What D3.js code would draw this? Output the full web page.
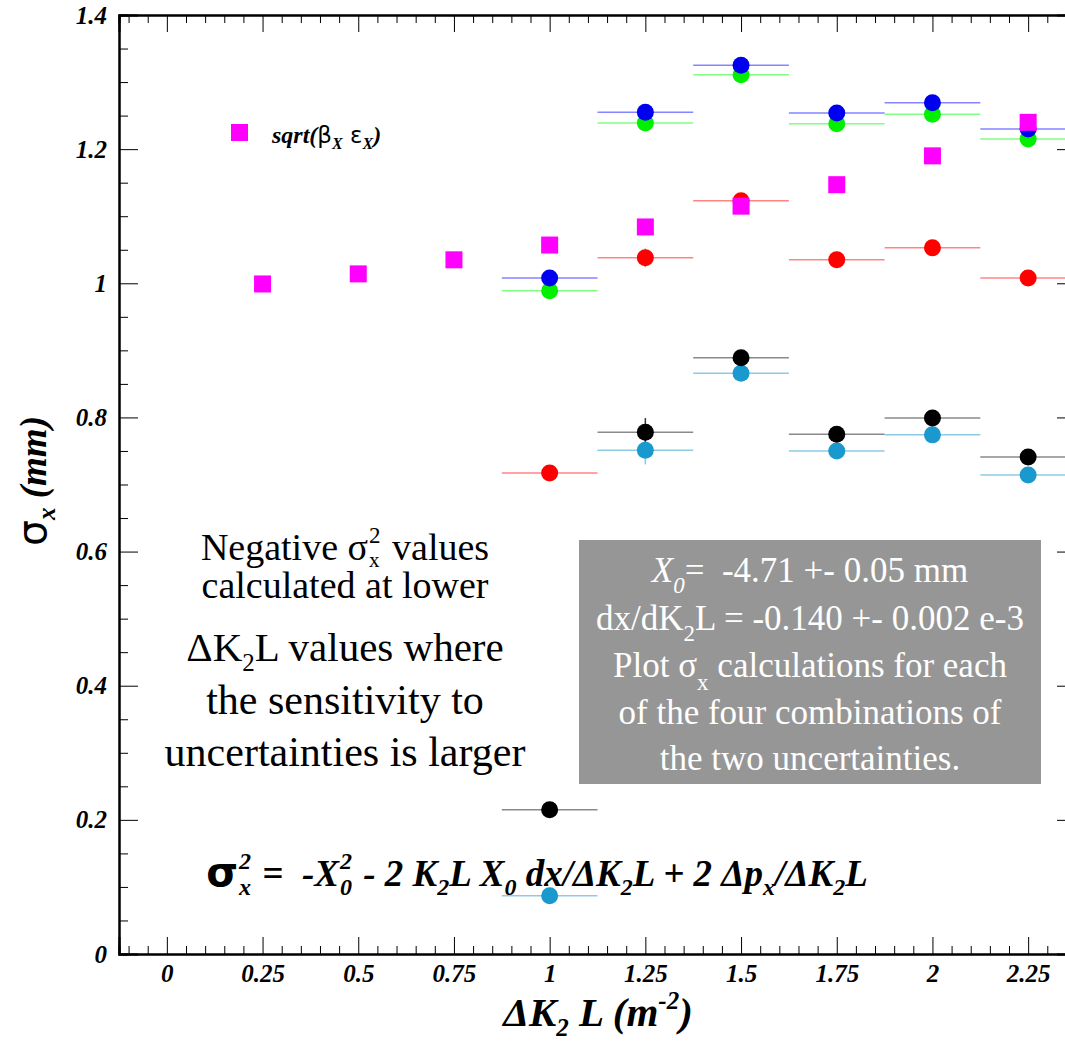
<!DOCTYPE html>
<html>
<head>
<meta charset="utf-8">
<script src="https://cdn.jsdelivr.net/npm/d3@7"></script>
<style>
  body { margin: 0; background: #fff; }
  svg { display: block; }
</style>
</head>
<body>
<div id="chart"></div>
<script>
// valores
const xValues = [1, 1.25, 1.5, 1.75, 2, 2.25];
const sqrtXValues = [0.25, 0.5, 0.75, 1, 1.25, 1.5, 1.75, 2, 2.25];
const sqrtBetaEps = [0.999, 1.014, 1.035, 1.057, 1.084, 1.115, 1.147, 1.190, 1.240];
const blueVals = [1.008, 1.255, 1.325, 1.254, 1.269, 1.230];
const greenVals = [0.989, 1.239, 1.311, 1.238, 1.252, 1.215];
const redVals = [0.717, 1.038, 1.123, 1.035, 1.053, 1.008];
const blackVals = [0.215, 0.778, 0.889, 0.775, 0.799, 0.741];
const cyanVals = [0.087, 0.751, 0.866, 0.750, 0.774, 0.714];
const redErr = [0, 0.014, 0, 0, 0, 0];
const blackErr = [0, 0.021, 0, 0, 0, 0];
const cyanErr = [0, 0.021, 0, 0, 0, 0];
const xHalfWidth = 0.125;
const xTicks = [0, 0.25, 0.5, 0.75, 1, 1.25, 1.5, 1.75, 2, 2.25];
const yTicks = [0, 0.2, 0.4, 0.6, 0.8, 1, 1.2, 1.4];

const width = 1065, height = 1044;
const plotLeft = 119, plotRight = 1076, plotTop = 15, plotBottom = 954;
const serif = "Liberation Serif, DejaVu Serif, serif";
const sans = "DejaVu Sans, sans-serif";

const svg = d3.select("#chart").append("svg")
    .attr("width", width)
    .attr("height", height);
svg.append("rect").attr("width", width).attr("height", height).attr("fill", "#fff");

const x = d3.scaleLinear().domain([-0.125, 2.375]).range([plotLeft, plotRight]);
const y = d3.scaleLinear().domain([0, 1.4]).range([plotBottom, plotTop]);

// ticks menores
const xMinor = d3.range(-0.1, 2.376, 0.05).filter(v => Math.abs(v / 0.25 - Math.round(v / 0.25)) > 0.01);
const yMinor = d3.range(0, 1.401, 0.05).filter(v => Math.abs(v / 0.2 - Math.round(v / 0.2)) > 0.01);

function styleAxis(g) {
    g.select(".domain").attr("stroke", "#000").attr("stroke-width", 2);
    g.selectAll(".tick line").attr("stroke", "#000").attr("stroke-width", 1);
    g.selectAll(".tick text")
        .attr("font-family", serif)
        .attr("font-weight", "bold")
        .attr("font-style", "italic")
        .attr("font-size", 25)
        .attr("fill", "#000");
}

// eje inferior
svg.append("g").attr("transform", `translate(0,${plotBottom})`)
    .call(d3.axisBottom(x).tickValues(xMinor).tickSize(-8).tickFormat(""))
    .call(styleAxis);
svg.append("g").attr("transform", `translate(0,${plotBottom})`)
    .call(d3.axisBottom(x).tickValues(xTicks).tickSize(-17).tickPadding(10).tickFormat(d3.format("")))
    .call(styleAxis);
// eje superior
svg.append("g").attr("transform", `translate(0,${plotTop})`)
    .call(d3.axisTop(x).tickValues(xMinor).tickSize(-8).tickFormat(""))
    .call(styleAxis);
svg.append("g").attr("transform", `translate(0,${plotTop})`)
    .call(d3.axisTop(x).tickValues(xTicks).tickSize(-17).tickFormat(""))
    .call(styleAxis);
// eje izquierdo
svg.append("g").attr("transform", `translate(${plotLeft},0)`)
    .call(d3.axisLeft(y).tickValues(yMinor).tickSize(-9).tickFormat(""))
    .call(styleAxis);
svg.append("g").attr("transform", `translate(${plotLeft},0)`)
    .call(d3.axisLeft(y).tickValues(yTicks).tickSize(-19).tickPadding(12).tickFormat(d3.format("")))
    .call(styleAxis);
// eje derecho
svg.append("g").attr("transform", `translate(${plotRight},0)`)
    .call(d3.axisRight(y).tickValues(yMinor).tickSize(-9).tickFormat(""))
    .call(styleAxis);
svg.append("g").attr("transform", `translate(${plotRight},0)`)
    .call(d3.axisRight(y).tickValues(yTicks).tickSize(-19).tickFormat(""))
    .call(styleAxis);

// una línea de texto = un <text>; cada parte es un <tspan> medido y colocado
// p.stack = [sup, sub] apilados en la misma x
function rich(parent, px, py, parts, anchor, fill) {
    const g = parent.append("g");
    const t = g.append("text")
        .attr("fill", fill || "#000")
        .style("white-space", "pre");
    let cursor = 0;
    function piece(p, base) {
        return t.append("tspan")
            .attr("x", cursor)
            .attr("y", p.dy || 0)
            .attr("font-family", p.family || base.family || serif)
            .attr("font-style", p.style || base.style || "normal")
            .attr("font-weight", p.weight || base.weight || "normal")
            .attr("font-size", p.size)
            .text(p.t);
    }
    parts.forEach(p => {
        if (p.stack) {
            cursor += 1;
            const a = piece(p.stack[0], p), b = piece(p.stack[1], p);
            cursor += Math.max(a.node().getComputedTextLength(), b.node().getComputedTextLength()) + 2;
        } else {
            cursor += piece(p, {}).node().getComputedTextLength();
        }
    });
    const shift = anchor === "middle" ? -cursor / 2 : 0;
    g.attr("transform", `translate(${px + shift},${py})`);
    return g;
}

// barras de error y puntos
const series = [
    { vals: cyanVals, err: cyanErr, fill: "#1a99cf", bar: "#8ccbe6" },
    { vals: blackVals, err: blackErr, fill: "#000000", bar: "#8a8a8a" },
    { vals: redVals, err: redErr, fill: "#ff0000", bar: "#ff8585" },
    { vals: greenVals, err: null, fill: "#00f000", bar: "#80ff80" },
    { vals: blueVals, err: null, fill: "#0000f0", bar: "#8585ff" }
];

series.forEach(s => {
    const pts = xValues.map((xv, i) => ({ x: xv, y: s.vals[i], e: s.err ? s.err[i] : 0 }));
    svg.append("g").selectAll("line")
        .data(pts).enter().append("line")
        .attr("x1", d => x(d.x - xHalfWidth))
        .attr("x2", d => x(d.x + xHalfWidth))
        .attr("y1", d => y(d.y))
        .attr("y2", d => y(d.y))
        .attr("stroke", s.bar)
        .attr("stroke-width", 1.5);
    svg.append("g").selectAll("line")
        .data(pts.filter(d => d.e > 0)).enter().append("line")
        .attr("x1", d => x(d.x))
        .attr("x2", d => x(d.x))
        .attr("y1", d => y(d.y - d.e))
        .attr("y2", d => y(d.y + d.e))
        .attr("stroke", s.fill === "#000000" ? "#333" : s.bar)
        .attr("stroke-width", 1.5);
});
series.forEach(s => {
    svg.append("g").selectAll("circle")
        .data(xValues.map((xv, i) => ({ x: xv, y: s.vals[i] }))).enter().append("circle")
        .attr("cx", d => x(d.x))
        .attr("cy", d => y(d.y))
        .attr("r", 8.5)
        .attr("fill", s.fill);
});

// cuadrados sqrt(beta eps)
const sq = 17;
svg.append("g").selectAll("rect")
    .data(sqrtXValues.map((xv, i) => ({ x: xv, y: sqrtBetaEps[i] }))).enter().append("rect")
    .attr("x", d => x(d.x) - sq / 2)
    .attr("y", d => y(d.y) - sq / 2)
    .attr("width", sq)
    .attr("height", sq)
    .attr("fill", "#ff00ff");

// leyenda
svg.append("rect").attr("x", 231).attr("y", 124).attr("width", sq).attr("height", sq).attr("fill", "#ff00ff");
const bi = { weight: "bold", style: "italic" };
rich(svg, 272, 143, [
    { t: "sqrt(", size: 24, ...bi },
    { t: "β", size: 23, family: sans },
    { t: "X", size: 16, dy: 6, ...bi },
    { t: " ε", size: 23, family: sans },
    { t: "X", size: 16, dy: 6, ...bi },
    { t: ")", size: 24, ...bi }
]);

// texto de la izquierda
const cx = 345;
rich(svg, cx, 560, [
    { t: "Negative σ", size: 38 },
    { stack: [{ t: "2", size: 23, dy: -17 }, { t: "x", size: 21, dy: 7 }] },
    { t: " values", size: 38 }
], "middle");
rich(svg, cx, 598, [{ t: "calculated at lower", size: 38 }], "middle");
rich(svg, cx, 661, [
    { t: "ΔK", size: 41 },
    { t: "2", size: 25, dy: 10 },
    { t: "L values where", size: 41 }
], "middle");
rich(svg, cx, 714, [{ t: "the sensitivity to", size: 42 }], "middle");
rich(svg, cx, 766, [{ t: "uncertainties is larger", size: 42 }], "middle");

// recuadro gris
svg.append("rect").attr("x", 579).attr("y", 540).attr("width", 462).attr("height", 244).attr("fill", "#969696");
const bx = 810, white = "#fff", bs = 35, bsub = 23;
rich(svg, bx, 582, [
    { t: "X", size: bs, style: "italic" },
    { t: "0", size: bsub, style: "italic", dy: 11 },
    { t: "=  -4.71 +- 0.05 mm", size: bs }
], "middle", white);
rich(svg, bx, 630, [
    { t: "dx/dK", size: bs },
    { t: "2", size: bsub, dy: 11 },
    { t: "L = -0.140 +- 0.002 e-3", size: bs }
], "middle", white);
rich(svg, bx, 677, [
    { t: "Plot σ", size: bs },
    { t: "x", size: bsub, dy: 13 },
    { t: " calculations for each", size: bs }
], "middle", white);
rich(svg, bx, 724, [{ t: "of the four combinations of", size: bs }], "middle", white);
rich(svg, bx, 770, [{ t: "the two uncertainties.", size: bs }], "middle", white);

// fórmula
const fs = 37, fsub = 24;
rich(svg, 537, 886, [
    { t: "σ", size: fs + 4, family: sans, weight: "bold" },
    { stack: [{ t: "2", size: fsub, dy: -17 }, { t: "x", size: fsub, dy: 9 }], ...bi },
    { t: " =  -X", size: fs, ...bi },
    { stack: [{ t: "2", size: fsub, dy: -17 }, { t: "0", size: fsub, dy: 9 }], ...bi },
    { t: " - 2 K", size: fs, ...bi },
    { t: "2", size: fsub, dy: 9, ...bi },
    { t: "L X", size: fs, ...bi },
    { t: "0", size: fsub, dy: 9, ...bi },
    { t: " dx/ΔK", size: fs, ...bi },
    { t: "2", size: fsub, dy: 9, ...bi },
    { t: "L + 2 Δ", size: fs, ...bi },
    { t: "p", size: fs, ...bi },
    { t: "x", size: fsub, dy: 9, ...bi },
    { t: "/ΔK", size: fs, ...bi },
    { t: "2", size: fsub, dy: 9, ...bi },
    { t: "L", size: fs, ...bi }
], "middle");

// títulos de ejes
rich(svg, 598, 1026, [
    { t: "ΔK", size: 41, ...bi },
    { t: "2", size: 25, dy: 10, ...bi },
    { t: " L (m", size: 41, ...bi },
    { t: "-2", size: 25, dy: -17, ...bi },
    { t: ")", size: 41, ...bi }
], "middle");

const yt = rich(svg, 0, 0, [
    { t: "σ", size: 41, family: sans },
    { t: "x", size: 25, dy: 9, ...bi },
    { t: " (mm)", size: 37, ...bi }
], "middle");
// girar el título del eje y
const ytTransform = yt.attr("transform");
yt.attr("transform", `translate(46,481) rotate(-90) ${ytTransform}`);
</script>
</body>
</html>
